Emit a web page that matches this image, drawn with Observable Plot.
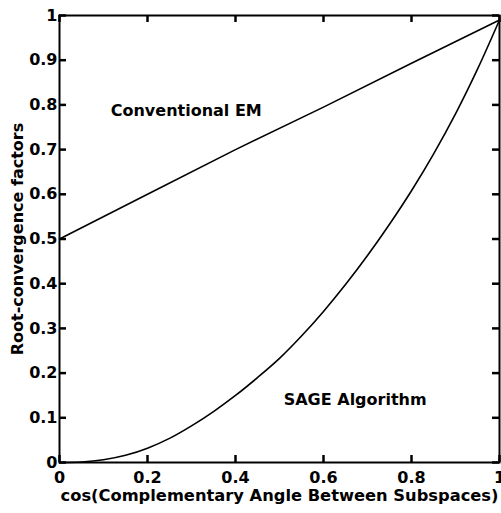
<!DOCTYPE html>
<html><head><meta charset="utf-8">
<script src="https://cdn.jsdelivr.net/npm/d3@7"></script>
<script src="https://cdn.jsdelivr.net/npm/@observablehq/plot@0.6"></script>
<style>body{margin:0;background:#fff}</style>
</head><body><div id="chart"></div>
<script>
// SAGE Algorithm curve
const sageX = [0, 0.05, 0.1, 0.15, 0.2, 0.25, 0.3, 0.35, 0.4, 0.45, 0.5, 0.55, 0.6, 0.65, 0.7, 0.75, 0.8, 0.85, 0.9, 0.95, 1];
const sageY = [0, 0.001, 0.006, 0.016, 0.032, 0.054, 0.082, 0.114, 0.15, 0.19, 0.233, 0.283, 0.338, 0.398, 0.463, 0.533, 0.608, 0.69, 0.78, 0.88, 0.99];
// Conventional EM line
const emX = [0, 0.2, 0.4, 0.6, 0.8, 1];
const emY = [0.5, 0.6, 0.7, 0.795, 0.893, 0.99];
// ticks
const xTicks = [0, 0.2, 0.4, 0.6, 0.8, 1];
const yTicks = [0, 0.1, 0.2, 0.3, 0.4, 0.5, 0.6, 0.7, 0.8, 0.9, 1];
// annotations
const labelText = ["Conventional EM", "SAGE Algorithm"];
const labelX = [0.288, 0.672];
const labelY = [0.787, 0.139];
const xLabel = "cos(Complementary Angle Between Subspaces)";
const yLabel = "Root-convergence factors";

const sage = sageX.map((x, i) => ({x, y: sageY[i]}));
const em = emX.map((x, i) => ({x, y: emY[i]}));
const notes = labelText.map((t, i) => ({t, x: labelX[i], y: labelY[i]}));
const xT = xTicks.map(v => ({v}));
const yT = yTicks.map(v => ({v}));

const W = 501, H = 513, ML = 59, MR = 2, MT = 15, MB = 51, TICK = 7;
const fw = W - ML - MR, fh = H - MT - MB;
const fmt = d => String(d);
const tk = {stroke: "#000", strokeWidth: 2.5};

const chart = Plot.plot({
  width: W,
  height: H,
  marginLeft: ML,
  marginRight: MR,
  marginTop: MT,
  marginBottom: MB,
  style: {fontFamily: "'DejaVu Sans', sans-serif", fontWeight: "bold", fontSize: "16px", background: "#fff", color: "#000"},
  x: {domain: [0, 1]},
  y: {domain: [0, 1]},
  marks: [
    Plot.axisX(xTicks, {anchor: "bottom", tickSize: 0, tickPadding: 9, tickFormat: fmt, label: null, fontSize: 16}),
    Plot.axisY(yTicks, {anchor: "left", tickSize: 0, tickPadding: 2, tickFormat: fmt, label: null, fontSize: 16}),
    Plot.frame({stroke: "#000", strokeWidth: 2}),
    // inward ticks on all four sides
    Plot.ruleX(xT, {x: "v", insetTop: fh - TICK, ...tk}),
    Plot.ruleX(xT, {x: "v", insetBottom: fh - TICK, ...tk}),
    Plot.ruleY(yT, {y: "v", insetRight: fw - TICK, ...tk}),
    Plot.ruleY(yT, {y: "v", insetLeft: fw - TICK, ...tk}),
    Plot.line(em, {x: "x", y: "y", stroke: "#000", strokeWidth: 1.6}),
    Plot.line(sage, {x: "x", y: "y", stroke: "#000", strokeWidth: 1.6, curve: "catmull-rom"}),
    Plot.text(notes, {x: "x", y: "y", text: "t", fontSize: 16, fill: "#000"}),
    Plot.text([xLabel], {frameAnchor: "bottom", dy: 38, fontSize: 16.3, fill: "#000"}),
    Plot.text([yLabel], {frameAnchor: "left", textAnchor: "middle", dx: -42, rotate: -90, fontSize: 16, fill: "#000"})
  ]
});
document.getElementById("chart").appendChild(chart);
</script>
</body></html>
